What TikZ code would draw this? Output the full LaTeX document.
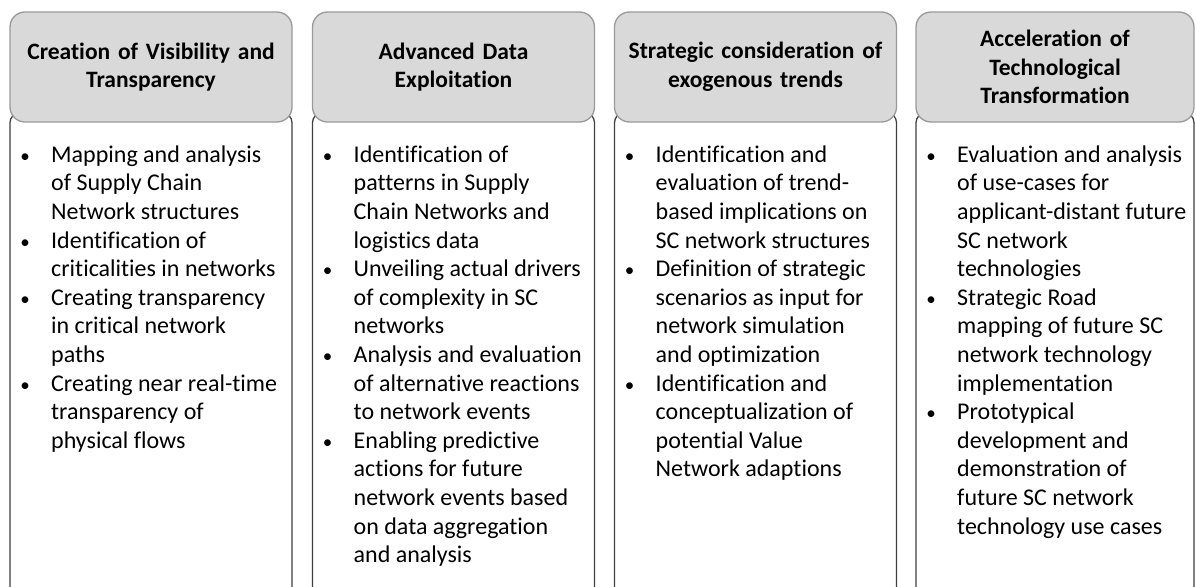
\documentclass[tikz,border=0pt]{standalone}
\usepackage{fontspec}
\setmainfont{Carlito}[Ligatures=NoCommon]
\usepackage{array}
\usetikzlibrary{positioning}

\definecolor{headfill}{HTML}{D9D9D9}
\definecolor{headline}{HTML}{9A9A9A}
\definecolor{bodyline}{HTML}{404040}

\newcommand{\bul}{\hspace*{15pt}\makebox[0pt]{\fontsize{19}{28.6}\selectfont\textbullet}}

\begin{document}
\begin{tikzpicture}[x=1pt, y=-1pt,
    head/.style={draw=headline, fill=headfill, line width=1.3pt, rounded corners=15pt,
        minimum width=282pt, minimum height=110pt, text width=272pt, align=center,
        inner sep=0pt, font=\fontsize{23.5}{28.6}\selectfont\bfseries},
    body/.style={draw=bodyline, fill=white, line width=1.3pt, rounded corners=10pt,
        minimum width=282pt, minimum height=520pt, anchor=north, inner sep=0pt},
    items/.style={anchor=north west, inner sep=0pt, font=\fontsize{24}{28.6}\selectfont}]
    \useasboundingbox (0,0) rectangle (1196,586);

    % column bodies, cut at the lower edge
    \begin{scope}
    \clip (0,0) rectangle (1196,586);
    \node[body] (bdVis) at (151,112) {};
    \node[body] (bdData) at (453.5,112) {};
    \node[body] (bdTrend) at (755.5,112) {};
    \node[body, minimum width=278pt] (bdTech) at (1055,112) {};
    \end{scope}

    % column headers
    \node[head] (hdVis) at (151,67) {Creation of Visibility and\\Transparency};
    \node[head] (hdData) at (453.5,67) {Advanced Data\\Exploitation};
    \node[head] (hdTrend) at (755.5,67) {Strategic consideration of\\exogenous trends};
    \node[head, minimum width=278pt] (hdTech) at (1055,67) {Acceleration of\\Technological\\Transformation};

    % bullet lists
    \node[items] (itVis) at (10,142) {\begin{tabular}{@{}p{41pt}@{}l@{}}
        \bul & Mapping and analysis\\
             & of Supply Chain\\
             & Network structures\\
        \bul & Identification of\\
             & criticalities in networks\\
        \bul & Creating transparency\\
             & in critical network\\
             & paths\\
        \bul & Creating near real-time\\
             & transparency of\\
             & physical flows
    \end{tabular}};
    \node[items] (itData) at (312.5,142) {\begin{tabular}{@{}p{41pt}@{}l@{}}
        \bul & Identification of\\
             & patterns in Supply\\
             & Chain Networks and\\
             & logistics data\\
        \bul & Unveiling actual drivers\\
             & of complexity in SC\\
             & networks\\
        \bul & Analysis and evaluation\\
             & of alternative reactions\\
             & to network events\\
        \bul & Enabling predictive\\
             & actions for future\\
             & network events based\\
             & on data aggregation\\
             & and analysis
    \end{tabular}};
    \node[items] (itTrend) at (614.5,142) {\begin{tabular}{@{}p{41pt}@{}l@{}}
        \bul & Identification and\\
             & evaluation of trend-\\
             & based implications on\\
             & SC network structures\\
        \bul & Definition of strategic\\
             & scenarios as input for\\
             & network simulation\\
             & and optimization\\
        \bul & Identification and\\
             & conceptualization of\\
             & potential Value\\
             & Network adaptions
    \end{tabular}};
    \node[items] (itTech) at (916,142) {\begin{tabular}{@{}p{41pt}@{}l@{}}
        \bul & Evaluation and analysis\\
             & of use-cases for\\
             & applicant-distant future\\
             & SC network\\
             & technologies\\
        \bul & Strategic Road\\
             & mapping of future SC\\
             & network technology\\
             & implementation\\
        \bul & Prototypical\\
             & development and\\
             & demonstration of\\
             & future SC network\\
             & technology use cases
    \end{tabular}};
\end{tikzpicture}
\end{document}
